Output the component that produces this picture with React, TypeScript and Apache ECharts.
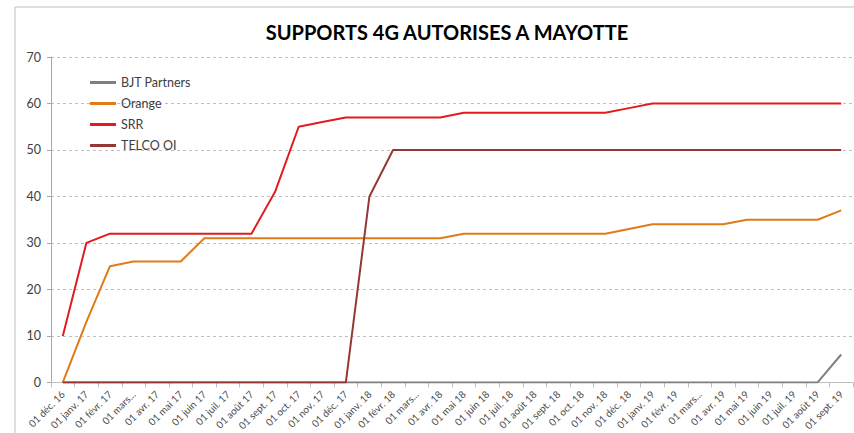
import React, { useEffect, useRef } from "react";
import * as echarts from "echarts";

const categories = [
  "01 déc. 16", "01 janv. 17", "01 févr. 17", "01 mars...", "01 avr. 17", "01 mai 17",
  "01 juin 17", "01 juil. 17", "01 août 17", "01 sept. 17", "01 oct. 17", "01 nov. 17",
  "01 déc. 17", "01 janv. 18", "01 févr. 18", "01 mars...", "01 avr. 18", "01 mai 18",
  "01 juin 18", "01 juil. 18", "01 août 18", "01 sept. 18", "01 oct. 18", "01 nov. 18",
  "01 déc. 18", "01 janv. 19", "01 févr. 19", "01 mars...", "01 avr. 19", "01 mai 19",
  "01 juin 19", "01 juil. 19", "01 août 19", "01 sept. 19",
];

const bjtPartners = [0, 0, 0, 0, 0, 0, 0, 0, 0, 0, 0, 0, 0, 0, 0, 0, 0, 0, 0, 0, 0, 0, 0, 0, 0, 0, 0, 0, 0, 0, 0, 0, 0, 6];
const orange = [0, 13, 25, 26, 26, 26, 31, 31, 31, 31, 31, 31, 31, 31, 31, 31, 31, 32, 32, 32, 32, 32, 32, 32, 33, 34, 34, 34, 34, 35, 35, 35, 35, 37];
const srr = [10, 30, 32, 32, 32, 32, 32, 32, 32, 41, 55, 56, 57, 57, 57, 57, 57, 58, 58, 58, 58, 58, 58, 58, 59, 60, 60, 60, 60, 60, 60, 60, 60, 60];
const telcoOi = [0, 0, 0, 0, 0, 0, 0, 0, 0, 0, 0, 0, 0, 40, 50, 50, 50, 50, 50, 50, 50, 50, 50, 50, 50, 50, 50, 50, 50, 50, 50, 50, 50, 50];

const seriesNames = ["BJT Partners", "Orange", "SRR", "TELCO OI"];
const seriesColors = ["#808080", "#E07B1A", "#E31B1F", "#953735"];
const seriesData = [bjtPartners, orange, srr, telcoOi];

export default function App() {
  const ref = useRef<HTMLDivElement>(null);
  useEffect(() => {
    document.body.style.margin = "0";
    const chart = echarts.init(ref.current!, null, { renderer: "svg" });
    chart.setOption({
      animation: false,
      backgroundColor: "#ffffff",
      title: {
        text: "SUPPORTS 4G AUTORISES A MAYOTTE",
        left: 442,
        top: 17,
        textAlign: "center",
        textStyle: { fontFamily: "Lato", fontWeight: "bold", fontSize: 20, color: "#000000" },
      },
      graphic: [
        {
          type: "rect",
          shape: { x: 15, y: 7, width: 860, height: 440 },
          style: { fill: "none", stroke: "#bfbfbf", lineWidth: 1 },
          silent: true,
        },
      ],
      legend: {
        orient: "vertical",
        left: 85,
        top: 71,
        icon: "rect",
        itemWidth: 26,
        itemHeight: 3,
        itemGap: 8,
        textStyle: { fontFamily: "Lato", fontSize: 12.5, color: "#404040" },
        data: seriesNames,
      },
      grid: { left: 51, right: 1, top: 57, bottom: 49, containLabel: false },
      xAxis: {
        type: "category",
        data: categories,
        boundaryGap: true,
        axisLine: { lineStyle: { color: "#bfbfbf" } },
        axisTick: { show: true, length: 5, lineStyle: { color: "#bfbfbf" } },
        axisLabel: {
          rotate: 45,
          interval: 0,
          fontFamily: "Lato",
          fontSize: 10,
          color: "#4d4d4d",
          margin: 10,
        },
      },
      yAxis: {
        type: "value",
        min: 0,
        max: 70,
        interval: 10,
        axisLine: { show: true, lineStyle: { color: "#a6a6a6" } },
        axisTick: { show: true, length: 4, lineStyle: { color: "#a6a6a6" } },
        axisLabel: { fontFamily: "Lato", fontSize: 12.5, color: "#404040", margin: 10 },
        splitLine: { lineStyle: { color: "#c0c0c0", type: [3, 3] } },
      },
      series: seriesNames.map((name, i) => ({
        name,
        type: "line",
        data: seriesData[i],
        symbol: "none",
        color: seriesColors[i],
        lineStyle: { width: 2, color: seriesColors[i] },
        z: i === 0 ? 5 : 2 + i,
      })),
    });
    return () => chart.dispose();
  }, []);
  return (
    <div
      ref={ref}
      style={{ position: "absolute", left: 0, top: 0, width: 854, height: 433 }}
    />
  );
}
